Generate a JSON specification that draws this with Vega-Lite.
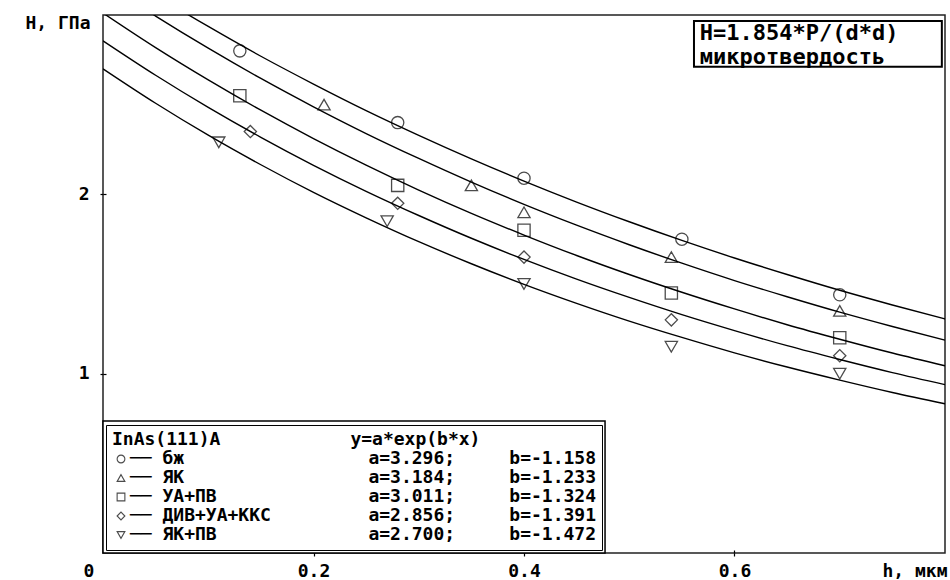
{
  "$schema": "https://vega.github.io/schema/vega-lite/v6.json",
  "width": 842,
  "height": 538,
  "autosize": {"type": "none"},
  "padding": {"left": 103, "top": 15, "right": 5, "bottom": 27},
  "background": "white",
  "config": {
    "view": {"stroke": "#222", "strokeWidth": 1.5},
    "font": "DejaVu Sans Mono"
  },
  "datasets": {
    "curves": [
      {"s": "бж", "h": 0, "H": 3.296}, {"s": "бж", "h": 0.05, "H": 3.111}, {"s": "бж", "h": 0.1, "H": 2.936}, {"s": "бж", "h": 0.15, "H": 2.770}, {"s": "бж", "h": 0.2, "H": 2.615}, {"s": "бж", "h": 0.25, "H": 2.467}, {"s": "бж", "h": 0.3, "H": 2.329}, {"s": "бж", "h": 0.35, "H": 2.198}, {"s": "бж", "h": 0.4, "H": 2.074}, {"s": "бж", "h": 0.45, "H": 1.957}, {"s": "бж", "h": 0.5, "H": 1.847}, {"s": "бж", "h": 0.55, "H": 1.743}, {"s": "бж", "h": 0.6, "H": 1.645}, {"s": "бж", "h": 0.65, "H": 1.553}, {"s": "бж", "h": 0.7, "H": 1.465}, {"s": "бж", "h": 0.75, "H": 1.383}, {"s": "бж", "h": 0.8, "H": 1.305},
      {"s": "ЯК", "h": 0, "H": 3.184}, {"s": "ЯК", "h": 0.05, "H": 2.994}, {"s": "ЯК", "h": 0.1, "H": 2.815}, {"s": "ЯК", "h": 0.15, "H": 2.646}, {"s": "ЯК", "h": 0.2, "H": 2.488}, {"s": "ЯК", "h": 0.25, "H": 2.339}, {"s": "ЯК", "h": 0.3, "H": 2.200}, {"s": "ЯК", "h": 0.35, "H": 2.068}, {"s": "ЯК", "h": 0.4, "H": 1.944}, {"s": "ЯК", "h": 0.45, "H": 1.828}, {"s": "ЯК", "h": 0.5, "H": 1.719}, {"s": "ЯК", "h": 0.55, "H": 1.616}, {"s": "ЯК", "h": 0.6, "H": 1.519}, {"s": "ЯК", "h": 0.65, "H": 1.429}, {"s": "ЯК", "h": 0.7, "H": 1.343}, {"s": "ЯК", "h": 0.75, "H": 1.263}, {"s": "ЯК", "h": 0.8, "H": 1.187},
      {"s": "УА+ПВ", "h": 0, "H": 3.011}, {"s": "УА+ПВ", "h": 0.05, "H": 2.818}, {"s": "УА+ПВ", "h": 0.1, "H": 2.638}, {"s": "УА+ПВ", "h": 0.15, "H": 2.469}, {"s": "УА+ПВ", "h": 0.2, "H": 2.311}, {"s": "УА+ПВ", "h": 0.25, "H": 2.163}, {"s": "УА+ПВ", "h": 0.3, "H": 2.024}, {"s": "УА+ПВ", "h": 0.35, "H": 1.894}, {"s": "УА+ПВ", "h": 0.4, "H": 1.773}, {"s": "УА+ПВ", "h": 0.45, "H": 1.659}, {"s": "УА+ПВ", "h": 0.5, "H": 1.553}, {"s": "УА+ПВ", "h": 0.55, "H": 1.454}, {"s": "УА+ПВ", "h": 0.6, "H": 1.361}, {"s": "УА+ПВ", "h": 0.65, "H": 1.273}, {"s": "УА+ПВ", "h": 0.7, "H": 1.192}, {"s": "УА+ПВ", "h": 0.75, "H": 1.115}, {"s": "УА+ПВ", "h": 0.8, "H": 1.044},
      {"s": "ДИВ+УА+ККС", "h": 0, "H": 2.856}, {"s": "ДИВ+УА+ККС", "h": 0.05, "H": 2.664}, {"s": "ДИВ+УА+ККС", "h": 0.1, "H": 2.485}, {"s": "ДИВ+УА+ККС", "h": 0.15, "H": 2.318}, {"s": "ДИВ+УА+ККС", "h": 0.2, "H": 2.162}, {"s": "ДИВ+УА+ККС", "h": 0.25, "H": 2.017}, {"s": "ДИВ+УА+ККС", "h": 0.3, "H": 1.882}, {"s": "ДИВ+УА+ККС", "h": 0.35, "H": 1.755}, {"s": "ДИВ+УА+ККС", "h": 0.4, "H": 1.637}, {"s": "ДИВ+УА+ККС", "h": 0.45, "H": 1.527}, {"s": "ДИВ+УА+ККС", "h": 0.5, "H": 1.425}, {"s": "ДИВ+УА+ККС", "h": 0.55, "H": 1.329}, {"s": "ДИВ+УА+ККС", "h": 0.6, "H": 1.240}, {"s": "ДИВ+УА+ККС", "h": 0.65, "H": 1.156}, {"s": "ДИВ+УА+ККС", "h": 0.7, "H": 1.079}, {"s": "ДИВ+УА+ККС", "h": 0.75, "H": 1.006}, {"s": "ДИВ+УА+ККС", "h": 0.8, "H": 0.939},
      {"s": "ЯК+ПВ", "h": 0, "H": 2.700}, {"s": "ЯК+ПВ", "h": 0.05, "H": 2.508}, {"s": "ЯК+ПВ", "h": 0.1, "H": 2.330}, {"s": "ЯК+ПВ", "h": 0.15, "H": 2.165}, {"s": "ЯК+ПВ", "h": 0.2, "H": 2.011}, {"s": "ЯК+ПВ", "h": 0.25, "H": 1.869}, {"s": "ЯК+ПВ", "h": 0.3, "H": 1.736}, {"s": "ЯК+ПВ", "h": 0.35, "H": 1.613}, {"s": "ЯК+ПВ", "h": 0.4, "H": 1.498}, {"s": "ЯК+ПВ", "h": 0.45, "H": 1.392}, {"s": "ЯК+ПВ", "h": 0.5, "H": 1.293}, {"s": "ЯК+ПВ", "h": 0.55, "H": 1.202}, {"s": "ЯК+ПВ", "h": 0.6, "H": 1.116}, {"s": "ЯК+ПВ", "h": 0.65, "H": 1.037}, {"s": "ЯК+ПВ", "h": 0.7, "H": 0.964}, {"s": "ЯК+ПВ", "h": 0.75, "H": 0.895}, {"s": "ЯК+ПВ", "h": 0.8, "H": 0.832}
    ],
    "points": [
      {"s": "бж", "h": 0.13, "H": 2.80}, {"s": "бж", "h": 0.28, "H": 2.40}, {"s": "бж", "h": 0.40, "H": 2.09}, {"s": "бж", "h": 0.55, "H": 1.75}, {"s": "бж", "h": 0.70, "H": 1.44},
      {"s": "ЯК", "h": 0.21, "H": 2.50}, {"s": "ЯК", "h": 0.35, "H": 2.05}, {"s": "ЯК", "h": 0.40, "H": 1.90}, {"s": "ЯК", "h": 0.54, "H": 1.65}, {"s": "ЯК", "h": 0.70, "H": 1.35},
      {"s": "УА+ПВ", "h": 0.13, "H": 2.55}, {"s": "УА+ПВ", "h": 0.28, "H": 2.05}, {"s": "УА+ПВ", "h": 0.40, "H": 1.80}, {"s": "УА+ПВ", "h": 0.54, "H": 1.45}, {"s": "УА+ПВ", "h": 0.70, "H": 1.20},
      {"s": "ДИВ+УА+ККС", "h": 0.14, "H": 2.35}, {"s": "ДИВ+УА+ККС", "h": 0.28, "H": 1.95}, {"s": "ДИВ+УА+ККС", "h": 0.40, "H": 1.65}, {"s": "ДИВ+УА+ККС", "h": 0.54, "H": 1.30}, {"s": "ДИВ+УА+ККС", "h": 0.70, "H": 1.10},
      {"s": "ЯК+ПВ", "h": 0.11, "H": 2.29}, {"s": "ЯК+ПВ", "h": 0.27, "H": 1.85}, {"s": "ЯК+ПВ", "h": 0.40, "H": 1.50}, {"s": "ЯК+ПВ", "h": 0.54, "H": 1.15}, {"s": "ЯК+ПВ", "h": 0.70, "H": 1.00}
    ]
  },
  "resolve": {"axis": {"x": "independent", "y": "independent"}},
  "layer": [
    {
      "data": {"name": "curves"},
      "mark": {"type": "line", "color": "#000", "strokeWidth": 1.4, "clip": true, "interpolate": "monotone"},
      "encoding": {
        "x": {
          "field": "h", "type": "quantitative",
          "scale": {"domain": [0, 0.8], "nice": false, "zero": false},
          "axis": {
            "orient": "bottom",
            "values": [0, 0.2, 0.4, 0.6],
            "labelExpr": "datum.value == 0 ? '0' : format(datum.value, '.1f')",
            "labelFont": "DejaVu Sans Mono", "labelFontWeight": "bold", "labelFontSize": 18, "labelColor": "#000",
            "labelBaseline": "middle", "labelPadding": 15,
            "labelOffset": {"condition": {"test": "datum.value == 0", "value": -20}, "value": 0},
            "tickOpacity": {"condition": {"test": "datum.value == 0", "value": 0}, "value": 1},
            "tickSize": 3, "tickColor": "#000", "tickWidth": 1.2,
            "domain": false, "grid": false,
            "title": "h, мкм", "titleFont": "DejaVu Sans Mono", "titleFontWeight": "bold", "titleFontSize": 18, "titleColor": "#000",
            "titleAlign": "right", "titleBaseline": "middle", "titleX": 844, "titleY": 18
          }
        },
        "y": {
          "field": "H", "type": "quantitative",
          "scale": {"domain": [0, 3], "nice": false, "zero": false},
          "axis": {
            "orient": "left",
            "values": [1, 2],
            "format": "d",
            "labelFont": "DejaVu Sans Mono", "labelFontWeight": "bold", "labelFontSize": 18, "labelColor": "#000",
            "labelPadding": 11,
            "tickSize": 3, "tickColor": "#000", "tickWidth": 1.2,
            "domain": false, "grid": false,
            "title": "H, ГПа", "titleFont": "DejaVu Sans Mono", "titleFontWeight": "bold", "titleFontSize": 18, "titleColor": "#000",
            "titleAngle": 0, "titleAlign": "right", "titleBaseline": "middle", "titleX": -13, "titleY": 8
          }
        },
        "detail": {"field": "s"}
      }
    },
    {
      "data": {"values": [{}]},
      "mark": {"type": "rect", "fill": "white", "stroke": "#000", "strokeWidth": 1.5},
      "encoding": {
        "x": {"datum": 0, "type": "quantitative", "axis": null},
        "x2": {"datum": 0.477},
        "y": {"datum": 0, "type": "quantitative", "axis": null},
        "y2": {"datum": 0.736}
      }
    },
    {
      "data": {"name": "points"},
      "mark": {"type": "point", "filled": false, "color": "#000", "strokeWidth": 1.3, "size": 150},
      "encoding": {
        "x": {"field": "h", "type": "quantitative",
          "axis": {"orient": "bottom", "values": [0.2, 0.4, 0.6], "labels": false, "domain": false, "grid": false, "title": null, "tickSize": -3, "tickColor": "#000", "tickWidth": 1.2}},
        "y": {"field": "H", "type": "quantitative",
          "axis": {"orient": "left", "values": [1, 2], "labels": false, "domain": false, "grid": false, "title": null, "tickSize": -3, "tickColor": "#000", "tickWidth": 1.2}},
        "shape": {
          "field": "s", "type": "nominal",
          "scale": {"domain": ["бж", "ЯК", "УА+ПВ", "ДИВ+УА+ККС", "ЯК+ПВ"], "range": ["circle", "triangle-up", "square", "diamond", "triangle-down"]},
          "legend": {
            "orient": "bottom-left", "offset": 3, "padding": 6,
            "strokeColor": "#000", "fillColor": "white",
            "title": "\u00a0InAs(111)A\u00a0\u00a0\u00a0\u00a0\u00a0\u00a0\u00a0\u00a0\u00a0\u00a0\u00a0\u00a0y=a*exp(b*x)",
            "titleFont": "DejaVu Sans Mono", "titleFontWeight": "bold", "titleFontSize": 18, "titleColor": "#000",
            "titlePadding": 1, "titleLimit": 1000,
            "labelFont": "DejaVu Sans Mono", "labelFontWeight": "bold", "labelFontSize": 18, "labelColor": "#000",
            "labelLimit": 1000, "labelOffset": 0, "rowPadding": 1,
            "symbolSize": 60, "symbolStrokeWidth": 1.1, "symbolStrokeColor": "#000", "symbolFillColor": "transparent",
            "labelExpr": "datum.label == 'бж' ? '──\u00a0бж\u00a0\u00a0\u00a0\u00a0\u00a0\u00a0\u00a0\u00a0\u00a0\u00a0\u00a0\u00a0\u00a0\u00a0\u00a0\u00a0\u00a0a=3.296;\u00a0\u00a0\u00a0\u00a0\u00a0b=-1.158' : datum.label == 'ЯК' ? '──\u00a0ЯК\u00a0\u00a0\u00a0\u00a0\u00a0\u00a0\u00a0\u00a0\u00a0\u00a0\u00a0\u00a0\u00a0\u00a0\u00a0\u00a0\u00a0a=3.184;\u00a0\u00a0\u00a0\u00a0\u00a0b=-1.233' : datum.label == 'УА+ПВ' ? '──\u00a0УА+ПВ\u00a0\u00a0\u00a0\u00a0\u00a0\u00a0\u00a0\u00a0\u00a0\u00a0\u00a0\u00a0\u00a0\u00a0a=3.011;\u00a0\u00a0\u00a0\u00a0\u00a0b=-1.324' : datum.label == 'ДИВ+УА+ККС' ? '──\u00a0ДИВ+УА+ККС\u00a0\u00a0\u00a0\u00a0\u00a0\u00a0\u00a0\u00a0\u00a0a=2.856;\u00a0\u00a0\u00a0\u00a0\u00a0b=-1.391' : '──\u00a0ЯК+ПВ\u00a0\u00a0\u00a0\u00a0\u00a0\u00a0\u00a0\u00a0\u00a0\u00a0\u00a0\u00a0\u00a0\u00a0a=2.700;\u00a0\u00a0\u00a0\u00a0\u00a0b=-1.472'"
          }
        }
      }
    },
    {
      "data": {"values": [{}]},
      "mark": {"type": "rect", "fill": "white", "stroke": "#000", "strokeWidth": 2},
      "encoding": {
        "x": {"datum": 0.5615, "type": "quantitative", "axis": null},
        "x2": {"datum": 0.797},
        "y": {"datum": 2.967, "type": "quantitative", "axis": null},
        "y2": {"datum": 2.711}
      }
    },
    {
      "data": {"values": [{}]},
      "mark": {"type": "text", "text": ["H=1.854*P/(d*d)", "микротвердость"], "align": "left", "baseline": "middle", "font": "DejaVu Sans Mono", "fontWeight": "bold", "fontSize": 22, "lineHeight": 24, "color": "#000"},
      "encoding": {
        "x": {"datum": 0.567, "type": "quantitative", "axis": null},
        "y": {"datum": 2.90, "type": "quantitative", "axis": null}
      }
    }
  ]
}
